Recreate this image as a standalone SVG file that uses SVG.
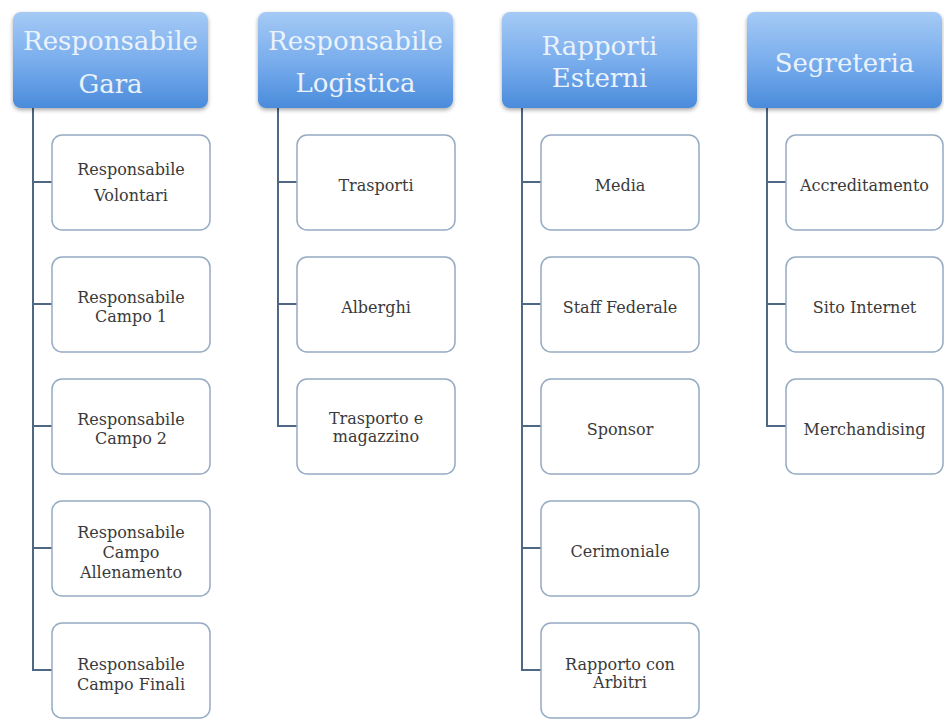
<svg xmlns="http://www.w3.org/2000/svg" width="944" height="722" viewBox="0 0 944 722">
<defs>
<linearGradient id="hg" x1="0" y1="0" x2="0" y2="1">
<stop offset="0" stop-color="#a5caf5"/>
<stop offset="0.5" stop-color="#7aaeed"/>
<stop offset="1" stop-color="#4a8bdb"/>
</linearGradient>
<filter id="sh" x="-10%" y="-10%" width="120%" height="130%">
<feGaussianBlur in="SourceAlpha" stdDeviation="2"/>
<feOffset dy="2" result="b"/>
<feComponentTransfer><feFuncA type="linear" slope="0.35"/></feComponentTransfer>
<feMerge><feMergeNode/><feMergeNode in="SourceGraphic"/></feMerge>
</filter>
</defs>
<style>
.hd{fill:url(#hg);filter:url(#sh)}
.ht{font-family:"DejaVu Serif","Liberation Serif",serif;font-size:26px;fill:#eaf2fc;text-anchor:middle}
.ch{fill:#ffffff;stroke:#95abc2;stroke-width:1.5}
.ct{font-family:"DejaVu Serif","Liberation Serif",serif;font-size:16px;fill:#3a3a3a;text-anchor:middle}
.cn{fill:none;stroke:#4d6784;stroke-width:2}
</style>
<rect width="944" height="722" fill="#ffffff"/>
<g id="connectors">
<path class="cn" d="M33 108V182H52M33 182V304H52M33 304V426H52M33 426V548H52M33 548V670H52"/>
<path class="cn" d="M278 108V182H297M278 182V304H297M278 304V426H297"/>
<path class="cn" d="M522 108V182H541M522 182V304H541M522 304V426H541M522 426V548H541M522 548V670H541"/>
<path class="cn" d="M767 108V182H786M767 182V304H786M767 304V426H786"/>
</g>
<g id="h-gara"><rect class="hd" x="13" y="12" width="195" height="96" rx="8"/><text class="ht" x="110.5" y="50">Responsabile</text><text class="ht" x="110.5" y="93">Gara</text></g>
<g id="h-logistica"><rect class="hd" x="258" y="12" width="195" height="96" rx="8"/><text class="ht" x="355.5" y="50">Responsabile</text><text class="ht" x="355.5" y="92">Logistica</text></g>
<g id="h-rapporti"><rect class="hd" x="502" y="12" width="195" height="96" rx="8"/><text class="ht" x="599.5" y="55">Rapporti</text><text class="ht" x="599.5" y="87">Esterni</text></g>
<g id="h-segreteria"><rect class="hd" x="747" y="12" width="195" height="96" rx="8"/><text class="ht" x="844.5" y="72">Segreteria</text></g>

<g id="c-volontari"><rect class="ch" x="52" y="135" width="158" height="95" rx="10"/><text class="ct" x="131" y="175">Responsabile</text><text class="ct" x="131" y="201">Volontari</text></g>
<g id="c-campo1"><rect class="ch" x="52" y="257" width="158" height="95" rx="10"/><text class="ct" x="131" y="303">Responsabile</text><text class="ct" x="131" y="322">Campo 1</text></g>
<g id="c-campo2"><rect class="ch" x="52" y="379" width="158" height="95" rx="10"/><text class="ct" x="131" y="425">Responsabile</text><text class="ct" x="131" y="444">Campo 2</text></g>
<g id="c-allenamento"><rect class="ch" x="52" y="501" width="158" height="95" rx="10"/><text class="ct" x="131" y="538">Responsabile</text><text class="ct" x="131" y="558">Campo</text><text class="ct" x="131" y="578">Allenamento</text></g>
<g id="c-finali"><rect class="ch" x="52" y="623" width="158" height="95" rx="10"/><text class="ct" x="131" y="670">Responsabile</text><text class="ct" x="131" y="690">Campo Finali</text></g>

<g id="c-trasporti"><rect class="ch" x="297" y="135" width="158" height="95" rx="10"/><text class="ct" x="376" y="191">Trasporti</text></g>
<g id="c-alberghi"><rect class="ch" x="297" y="257" width="158" height="95" rx="10"/><text class="ct" x="376" y="313">Alberghi</text></g>
<g id="c-magazzino"><rect class="ch" x="297" y="379" width="158" height="95" rx="10"/><text class="ct" x="376" y="424">Trasporto e</text><text class="ct" x="376" y="442">magazzino</text></g>

<g id="c-media"><rect class="ch" x="541" y="135" width="158" height="95" rx="10"/><text class="ct" x="620" y="191">Media</text></g>
<g id="c-staff"><rect class="ch" x="541" y="257" width="158" height="95" rx="10"/><text class="ct" x="620" y="313">Staff Federale</text></g>
<g id="c-sponsor"><rect class="ch" x="541" y="379" width="158" height="95" rx="10"/><text class="ct" x="620" y="435">Sponsor</text></g>
<g id="c-cerimoniale"><rect class="ch" x="541" y="501" width="158" height="95" rx="10"/><text class="ct" x="620" y="557">Cerimoniale</text></g>
<g id="c-arbitri"><rect class="ch" x="541" y="623" width="158" height="95" rx="10"/><text class="ct" x="620" y="670">Rapporto con</text><text class="ct" x="620" y="688">Arbitri</text></g>

<g id="c-accreditamento"><rect class="ch" x="786" y="135" width="157" height="95" rx="10"/><text class="ct" x="864.5" y="191">Accreditamento</text></g>
<g id="c-sito"><rect class="ch" x="786" y="257" width="157" height="95" rx="10"/><text class="ct" x="864.5" y="313">Sito Internet</text></g>
<g id="c-merch"><rect class="ch" x="786" y="379" width="157" height="95" rx="10"/><text class="ct" x="864.5" y="435">Merchandising</text></g>
</svg>
